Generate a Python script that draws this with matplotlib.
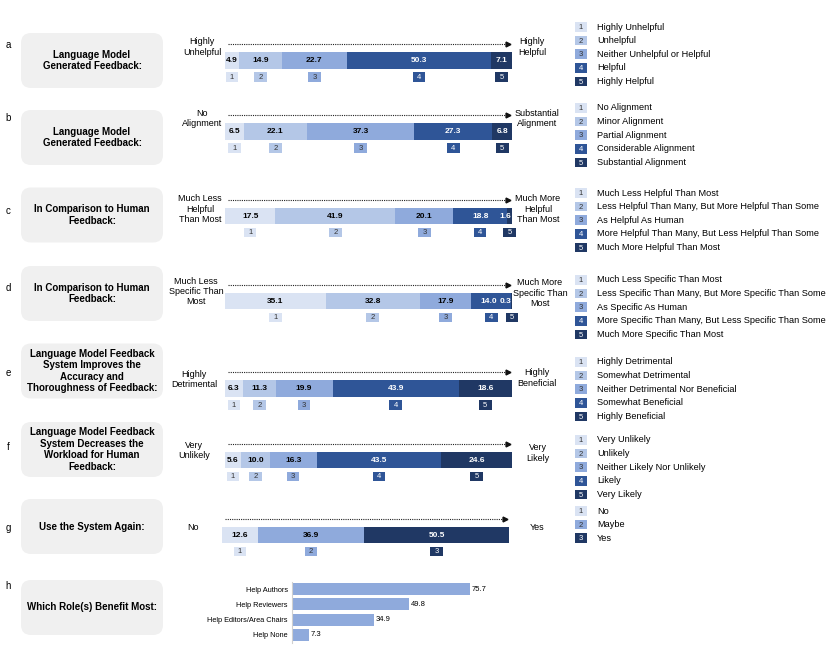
import matplotlib.pyplot as plt
import numpy as np
from matplotlib.patches import FancyBboxPatch

plt.rcParams['font.family'] = ['Liberation Sans', 'DejaVu Sans']

W, H = 830, 664

# ---- data ----
letters = ['a', 'b', 'c', 'd', 'e', 'f', 'g', 'h']
titles = [
    'Language Model\nGenerated Feedback:',
    'Language Model\nGenerated Feedback:',
    'In Comparison to Human\nFeedback:',
    'In Comparison to Human\nFeedback:',
    'Language Model Feedback\nSystem Improves the\nAccuracy and\nThoroughness of Feedback:',
    'Language Model Feedback\nSystem Decreases the\nWorkload for Human\nFeedback:',
    'Use the System Again:',
    'Which Role(s) Benefit Most:',
]
left_ends = ['Highly\nUnhelpful', 'No\nAlignment', 'Much Less\nHelpful\nThan Most',
             'Much Less\nSpecific Than\nMost', 'Highly\nDetrimental', 'Very\nUnlikely', 'No']
right_ends = ['Highly\nHelpful', 'Substantial\nAlignment', 'Much More\nHelpful\nThan Most',
              'Much More\nSpecific Than\nMost', 'Highly\nBeneficial', 'Very\nLikely', 'Yes']

vals_a = [4.9, 14.9, 22.7, 50.3, 7.1]
vals_b = [6.5, 22.1, 37.3, 27.3, 6.8]
vals_c = [17.5, 41.9, 20.1, 18.8, 1.6]
vals_d = [35.1, 32.8, 17.9, 14.0, 0.3]
vals_e = [6.3, 11.3, 19.9, 43.9, 18.6]
vals_f = [5.6, 10.0, 16.3, 43.5, 24.6]
vals_g = [12.6, 36.9, 50.5]
values = [vals_a, vals_b, vals_c, vals_d, vals_e, vals_f, vals_g]

legend_labels = [
    ['Highly Unhelpful', 'Unhelpful', 'Neither Unhelpful or Helpful', 'Helpful', 'Highly Helpful'],
    ['No Alignment', 'Minor Alignment', 'Partial Alignment', 'Considerable Alignment', 'Substantial Alignment'],
    ['Much Less Helpful Than Most', 'Less Helpful Than Many, But More Helpful Than Some',
     'As Helpful As Human', 'More Helpful Than Many, But Less Helpful Than Some', 'Much More Helpful Than Most'],
    ['Much Less Specific Than Most', 'Less Specific Than Many, But More Specific Than Some',
     'As Specific As Human', 'More Specific Than Many, But Less Specific Than Some', 'Much More Specific Than Most'],
    ['Highly Detrimental', 'Somewhat Detrimental', 'Neither Detrimental Nor Beneficial',
     'Somewhat Beneficial', 'Highly Beneficial'],
    ['Very Unlikely', 'Unlikely', 'Neither Likely Nor Unlikely', 'Likely', 'Very Likely'],
    ['No', 'Maybe', 'Yes'],
]

roles = ['Help Authors', 'Help Reviewers', 'Help Editors/Area Chairs', 'Help None']
role_pct = [75.7, 49.8, 34.9, 7.3]

blues5 = ['#dae3f3', '#b4c7e7', '#8faadc', '#2f5597', '#203864']
blues3 = ['#dae3f3', '#8faadc', '#203864']

# ---- layout (pixels) ----
box_cy = [60.5, 137.5, 215, 293.5, 371, 449.5, 526.5, 607.5]
letter_y = [45, 118, 211, 288, 373, 447, 528, 586]
bar_cy = [60.5, 131.5, 216, 301, 388.5, 460, 535]
bar_x0 = [225, 225, 225, 225, 225, 225, 222]
left_pos = [(202, 47), (202, 118.5), (200, 209), (196, 291.5), (194, 379.5), (194, 450.5), (193, 528)]
right_pos = [(532, 47), (537, 118.5), (538, 209), (540, 293), (537, 378), (538, 453), (537, 528)]
legend_y0 = [27, 108, 193, 280, 362, 440, 511]
row_h = 13.6

fig = plt.figure(figsize=(8.3, 6.64), dpi=100)

bg = fig.add_axes([0, 0, 1, 1])
bg.set_xlim(0, W)
bg.set_ylim(H, 0)
bg.axis('off')

for i in range(8):
    bg.add_patch(FancyBboxPatch((21, box_cy[i] - 27.5), 142, 55,
                                boxstyle='round,pad=0,rounding_size=10',
                                fc='#f0f0f0', ec='none'))
    bg.text(92, box_cy[i], titles[i], ha='center', va='center', fontsize=7,
            fontweight='bold', linespacing=1.2)
    bg.text(8, letter_y[i], letters[i], ha='center', va='center', fontsize=7)

for i in range(7):
    bg.text(left_pos[i][0], left_pos[i][1], left_ends[i], ha='center', va='center',
            fontsize=6.5, linespacing=1.15)
    bg.text(right_pos[i][0], right_pos[i][1], right_ends[i], ha='center', va='center',
            fontsize=6.5, linespacing=1.15)

# stacked bars
for i, v in enumerate(values):
    v = np.array(v)
    cols = blues5 if len(v) == 5 else blues3
    ax = fig.add_axes([bar_x0[i] / W, 1 - (bar_cy[i] + 22) / H, 287 / W, 44 / H])
    ax.set_xlim(0, 100)
    ax.set_ylim(22, -22)
    ax.axis('off')
    lefts = np.concatenate([[0], np.cumsum(v)[:-1]])
    ax.barh(0, v, left=lefts, height=16.5, color=cols, edgecolor='none')
    centers = lefts + v / 2
    # value labels
    lab_x = np.minimum(centers, 97.6)
    for k in range(len(lab_x) - 2, -1, -1):
        lab_x[k] = min(lab_x[k], lab_x[k + 1] - 5.6) if v[k + 1] < 4 else lab_x[k]
    for k in range(len(v)):
        dark = k >= len(v) - 2 if len(v) == 5 else k == 2
        ax.text(lab_x[k], 0.3, f'{v[k]:.1f}', ha='center', va='center', fontsize=6,
                fontweight='bold', color='white' if dark else 'black')
    # number boxes
    bx = centers.copy()
    for k in range(len(bx) - 2, -1, -1):
        bx[k] = min(bx[k], bx[k + 1] - 6.5)
    ax.bar(bx, 9.5, width=4.4, bottom=11.75, color=cols, clip_on=False)
    for k in range(len(v)):
        dark = k >= len(v) - 2 if len(v) == 5 else k == 2
        ax.text(bx[k], 16.8, str(k + 1), ha='center', va='center', fontsize=5.5,
                color='white' if dark else '#333333', clip_on=False)
    # arrow
    ax.plot([1, 98.3], [-16.5, -16.5], ls=(0, (1, 1)), lw=0.8, color='#222222', clip_on=False)
    ax.plot([98.5], [-16.5], marker='>', ms=3.5, color='#111111', clip_on=False)

# legends
for i, labs in enumerate(legend_labels):
    n = len(labs)
    cols = blues5 if n == 5 else blues3
    top = legend_y0[i] - row_h / 2
    lg = fig.add_axes([575 / W, 1 - (top + n * row_h) / H, 255 / W, n * row_h / H])
    lg.set_xlim(0, 255)
    lg.set_ylim(n - 0.5, -0.5)
    lg.axis('off')
    lg.barh(range(n), [12] * n, left=0, height=0.7, color=cols)
    for k in range(n):
        dark = k >= n - 2 if n == 5 else k == 2
        lg.text(6, k + 0.05, str(k + 1), ha='center', va='center', fontsize=5.5,
                color='white' if dark else '#333333')
        lg.text(22, k, labs[k], ha='left', va='center', fontsize=6.6)

# roles bar chart
ax = fig.add_axes([292 / W, 1 - 642.5 / H, 235 / W, 61 / H])
ax.barh(range(len(roles)), role_pct, height=0.8, color='#8faadc')
ax.set_xlim(0, 100)
ax.set_ylim(len(roles) - 0.5, -0.5)
ax.set_yticks(range(len(roles)))
ax.set_yticklabels(roles, fontsize=5.3)
ax.tick_params(axis='y', length=0, pad=3)
ax.set_xticks([])
for s in ['top', 'right', 'bottom']:
    ax.spines[s].set_visible(False)
ax.spines['left'].set_color('#d0d0d0')
ax.spines['left'].set_linewidth(0.8)
for k, p in enumerate(role_pct):
    ax.text(p + 0.6, k, f'{p:.1f}', va='center', ha='left', fontsize=5.5)

fig.savefig('out.png', dpi=100)
